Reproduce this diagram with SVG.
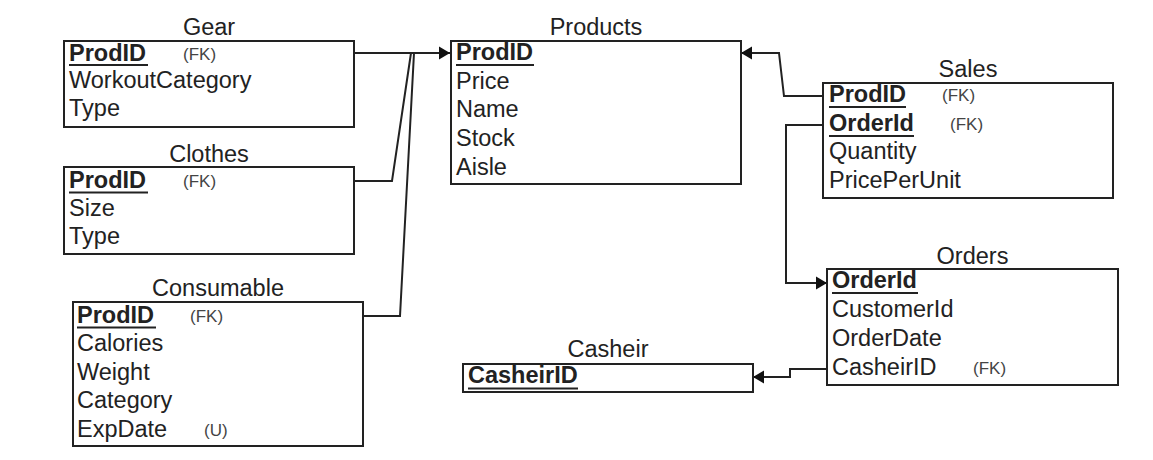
<svg xmlns="http://www.w3.org/2000/svg" width="1153" height="460" viewBox="0 0 1153 460">
<defs>
<style>
text{font-family:"Liberation Sans",Arial,sans-serif;fill:#222}
.t{font-size:23.5px;text-anchor:middle}
.f{font-size:23.5px}
.pk{font-size:23.5px;font-weight:bold}
.fk{font-size:17px;fill:#444}
.box{fill:#fff;stroke:#222;stroke-width:2}
.ul{stroke:#222;stroke-width:2}
.c{fill:none;stroke:#222;stroke-width:2}
</style>
<marker id="arr" markerUnits="userSpaceOnUse" markerWidth="14" markerHeight="16" viewBox="0 0 14 16" refX="12" refY="8" orient="auto">
<path d="M1,1.5 L12,8 L1,14.5 Z" fill="#111"/>
</marker>
</defs>
<rect width="1153" height="460" fill="#fff"/>

<g id="connectors">
<path class="c" d="M354,53 H450" marker-end="url(#arr)"/>
<path class="c" d="M354,181 H392 L411,53"/>
<path class="c" d="M363,316 H400 L414,53"/>
<path class="c" d="M823,96 H784 L779,53 H741" marker-end="url(#arr)"/>
<path class="c" d="M823,125 H786 V283 H827" marker-end="url(#arr)"/>
<path class="c" d="M827,369 H790 V377 H753" marker-end="url(#arr)"/>
</g>

<g id="gear">
<text class="t" x="209" y="35">Gear</text>
<rect class="box" x="64" y="41" width="290" height="86"/>
<text class="pk" x="69" y="60.5">ProdID</text>
<line class="ul" x1="69" y1="65" x2="148" y2="65"/>
<text class="fk" x="183" y="60">(FK)</text>
<text class="f" x="69" y="88">WorkoutCategory</text>
<text class="f" x="69" y="115.5">Type</text>
</g>

<g id="clothes">
<text class="t" x="209" y="161.5">Clothes</text>
<rect class="box" x="64" y="167" width="290" height="87"/>
<text class="pk" x="69" y="187.5">ProdID</text>
<line class="ul" x1="69" y1="192.5" x2="148" y2="192.5"/>
<text class="fk" x="183" y="187">(FK)</text>
<text class="f" x="69" y="216">Size</text>
<text class="f" x="69" y="244">Type</text>
</g>

<g id="consumable">
<text class="t" x="218" y="296">Consumable</text>
<rect class="box" x="73" y="302" width="290" height="144"/>
<text class="pk" x="77" y="322.5">ProdID</text>
<line class="ul" x1="77" y1="327.5" x2="156" y2="327.5"/>
<text class="fk" x="190" y="322">(FK)</text>
<text class="f" x="77" y="351">Calories</text>
<text class="f" x="77" y="380">Weight</text>
<text class="f" x="77" y="408">Category</text>
<text class="f" x="77" y="437">ExpDate</text>
<text class="fk" x="204" y="436">(U)</text>
</g>

<g id="products">
<text class="t" x="596" y="35">Products</text>
<rect class="box" x="451" y="41" width="290" height="143"/>
<text class="pk" x="456" y="60">ProdID</text>
<line class="ul" x1="456" y1="65" x2="534" y2="65"/>
<text class="f" x="456" y="88.5">Price</text>
<text class="f" x="456" y="117">Name</text>
<text class="f" x="456" y="146">Stock</text>
<text class="f" x="456" y="174.5">Aisle</text>
</g>

<g id="sales">
<text class="t" x="968" y="77">Sales</text>
<rect class="box" x="823" y="83" width="290" height="115"/>
<text class="pk" x="829" y="102">ProdID</text>
<line class="ul" x1="829" y1="107" x2="906" y2="107"/>
<text class="fk" x="942" y="101">(FK)</text>
<text class="pk" x="829" y="130.5">OrderId</text>
<line class="ul" x1="829" y1="136" x2="914" y2="136"/>
<text class="fk" x="950" y="130">(FK)</text>
<text class="f" x="829" y="159">Quantity</text>
<text class="f" x="829" y="188">PricePerUnit</text>
</g>

<g id="orders">
<text class="t" x="972.5" y="263.5">Orders</text>
<rect class="box" x="827" y="269" width="291" height="116"/>
<text class="pk" x="832" y="288">OrderId</text>
<line class="ul" x1="832" y1="293" x2="918" y2="293"/>
<text class="f" x="832" y="317">CustomerId</text>
<text class="f" x="832" y="346">OrderDate</text>
<text class="f" x="832" y="375">CasheirID</text>
<text class="fk" x="973" y="374">(FK)</text>
</g>

<g id="casheir">
<text class="t" x="608" y="357">Casheir</text>
<rect class="box" x="463" y="364" width="290" height="28"/>
<text class="pk" x="468" y="383">CasheirID</text>
<line class="ul" x1="468" y1="388.5" x2="578" y2="388.5"/>
</g>
</svg>
